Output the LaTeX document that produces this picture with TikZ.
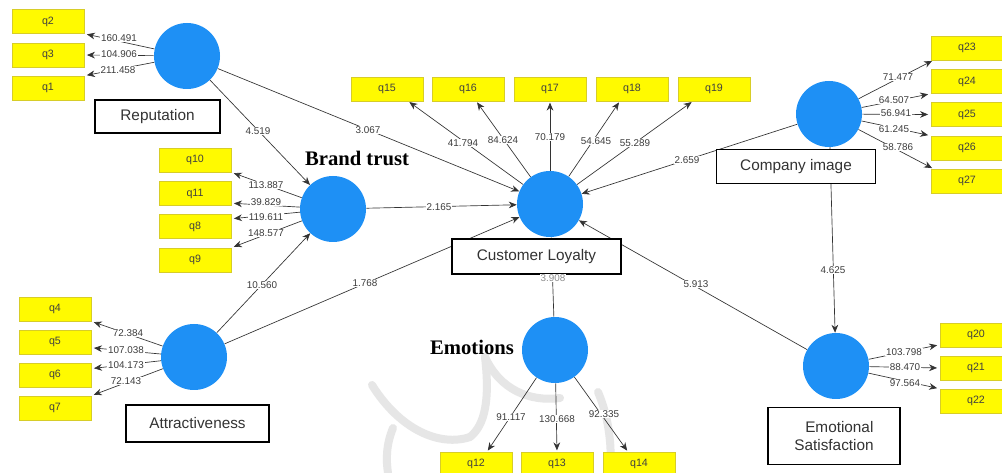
\documentclass[tikz,border=0pt]{standalone}
\usepackage{fontspec}
\setmainfont{Liberation Serif}
\setsansfont{Liberation Sans}
\usetikzlibrary{arrows.meta,backgrounds,calc}
\definecolor{lvblue}{RGB}{30,144,245}
\definecolor{indyel}{RGB}{255,250,0}
\definecolor{indedge}{RGB}{215,205,40}
\definecolor{valgray}{RGB}{60,60,60}
\definecolor{wmgray}{RGB}{230,230,230}
\begin{document}
\begin{tikzpicture}[x=0.75pt,y=-0.75pt,
  lv/.style={circle,fill=lvblue,minimum size=49.5pt,inner sep=0pt},
  ind/.style={rectangle,fill=indyel,draw=indedge,line width=0.4pt,minimum width=54pt,minimum height=18pt,inner sep=0pt,font=\sffamily\fontsize{8}{9}\selectfont,text=black!75},
  lbox/.style={rectangle,draw=black,line width=0.8pt,fill=white,font=\sffamily\fontsize{11.5}{14}\selectfont,text=black!80,align=center,inner sep=0pt},
  val/.style={fill=white,inner sep=0.6pt,font=\sffamily\fontsize{7.4}{8}\selectfont,text=valgray},
  bt/.style={font=\bfseries\fontsize{15.5}{18}\selectfont,text=black},
  conn/.style={draw=black!80,line width=0.5pt,-{Stealth[length=6pt,width=5pt]}},
  wm/.style={draw=wmgray,line width=6pt,line cap=round}]
\useasboundingbox (0,0) rectangle (1002,473);

% latent variables
\node[lv] (rep) at (187,56) {};
\node[lv] (brt) at (333,209) {};
\node[lv] (att) at (194,357) {};
\node[lv] (cl) at (550,204) {};
\node[lv] (ci) at (829,114) {};
\node[lv] (emo) at (555,350) {};
\node[lv] (es) at (836,366) {};

% label boxes
\node[lbox,minimum width=93.75pt,minimum height=24.75pt] (repl) at (157.5,116.5) {Reputation};
\node[lbox,minimum width=107.25pt,minimum height=27.75pt] (attl) at (197.5,423.5) {Attractiveness};
\node[lbox,minimum width=126.75pt,minimum height=26.25pt] (cll) at (536.5,256.5) {Customer Loyalty};
\node[lbox,minimum width=119.25pt,minimum height=25.5pt] (cil) at (796,166.5) {Company image};
\node[lbox,minimum width=99pt,minimum height=42.75pt] (esl) at (834,436) {\hspace*{8pt}Emotional\\Satisfaction};
\node[bt] (btl) at (357,158) {Brand trust};
\node[bt] (emol) at (472,347) {Emotions};

% indicators
\node[ind] (q2) at (48,21.5) {q2};
\node[ind] (q3) at (48,55) {q3};
\node[ind] (q1) at (48,88) {q1};
\node[ind] (q10) at (195,160) {q10};
\node[ind] (q11) at (195,193.5) {q11};
\node[ind] (q8) at (195,226.5) {q8};
\node[ind] (q9) at (195,260) {q9};
\node[ind] (q4) at (55,309) {q4};
\node[ind] (q5) at (55,342) {q5};
\node[ind] (q6) at (55,375) {q6};
\node[ind] (q7) at (55,408) {q7};
\node[ind] (q15) at (387,89) {q15};
\node[ind] (q16) at (468,89) {q16};
\node[ind] (q17) at (550,89) {q17};
\node[ind] (q18) at (632,89) {q18};
\node[ind] (q19) at (714,89) {q19};
\node[ind] (q23) at (967,48) {q23};
\node[ind] (q24) at (967,81.5) {q24};
\node[ind] (q25) at (967,114.5) {q25};
\node[ind] (q26) at (967,148) {q26};
\node[ind] (q27) at (967,181) {q27};
\node[ind] (q12) at (476,464) {q12};
\node[ind] (q13) at (557,464) {q13};
\node[ind] (q14) at (639,464) {q14};
\node[ind] (q20) at (976,335) {q20};
\node[ind] (q21) at (976,368) {q21};
\node[ind] (q22) at (976,401) {q22};

\begin{pgfonlayer}{background}
\fill[white] (0,0) rectangle (1002,473);
% watermark
\draw[wm] (372,385) .. controls (400,430) and (440,447) .. (470,437);
\draw[wm] (485,357) .. controls (490,400) and (485,425) .. (470,437);
\draw[wm] (393,428) .. controls (386,445) and (386,460) .. (388,473);
\draw[wm] (485,357) .. controls (500,390) and (530,402) .. (560,398);
\draw[wm] (598,392) .. controls (610,420) and (612,450) .. (610,473);
% structural paths
\draw[conn] (rep) -- (brt);
\draw[conn] (rep) -- (cl);
\draw[conn] (att) -- (brt);
\draw[conn] (att) -- (cl);
\draw[conn] (brt) -- (cl);
\draw[conn] (ci) -- (cl);
\draw[conn] (ci) -- (es);
\draw[conn] (es) -- (cl);
\draw[conn] (emo) -- (cl);
% outer loadings
\draw[conn,shorten >=2pt] (rep) -- (q2.south east);
\draw[conn,shorten >=2pt] (rep) -- (q3.east);
\draw[conn,shorten >=2pt] (rep) -- (q1.north east);
\draw[conn,shorten >=2pt] (brt) -- (q10.south east);
\draw[conn,shorten >=2pt] (brt) -- (q11.-15);
\draw[conn,shorten >=2pt] (brt) -- (q8.12);
\draw[conn,shorten >=2pt] (brt) -- (q9.north east);
\draw[conn,shorten >=2pt] (att) -- (q4.south east);
\draw[conn,shorten >=2pt] (att) -- (q5.-9);
\draw[conn,shorten >=2pt] (att) -- (q6.10);
\draw[conn,shorten >=2pt] (att) -- (q7.north east);
\draw[conn,shorten >=1pt] (cl) -- (q15.-30);
\draw[conn,shorten >=1pt] (cl) -- (q16.-56);
\draw[conn,shorten >=1pt] (cl) -- (q17.south);
\draw[conn,shorten >=1pt] (cl) -- (q18.-135);
\draw[conn,shorten >=1pt] (cl) -- (q19.-150);
\draw[conn,shorten >=1pt] (ci) -- (q23.-160);
\draw[conn,shorten >=2pt] (ci) -- (q24.south west);
\draw[conn,shorten >=2pt] (ci) -- (q25.west);
\draw[conn,shorten >=2pt] (ci) -- (q26.north west);
\draw[conn,shorten >=1pt] (ci) -- (q27.160);
\draw[conn,shorten >=1pt] (emo) -- (q12.48);
\draw[conn,shorten >=1pt] (emo) -- (q13.north);
\draw[conn,shorten >=1pt] (emo) -- (q14.132);
\draw[conn,shorten >=2pt] (es) -- (q20.-165);
\draw[conn,shorten >=2pt] (es) -- (q21.west);
\draw[conn,shorten >=2pt] (es) -- (q22.north west);
\end{pgfonlayer}

% path coefficients
\node[val] (v1) at (258,131) {4.519};
\node[val] (v2) at (368,130) {3.067};
\node[val] (v3) at (262,285) {10.560};
\node[val] (v4) at (365,283) {1.768};
\node[val] (v5) at (439,207) {2.165};
\node[val] (v6) at (687,160) {2.659};
\node[val] (v7) at (833,270) {4.625};
\node[val] (v8) at (696,284) {5.913};
\node[val,text=black!45] (v9) at (553,278) {3.908};
% loadings
\node[val] (l1) at (119,38) {160.491};
\node[val] (l2) at (119,54) {104.906};
\node[val] (l3) at (118,70) {211.458};
\node[val] (l4) at (266,185) {113.887};
\node[val] (l5) at (266,202) {39.829};
\node[val] (l6) at (266,217) {119.611};
\node[val] (l7) at (266,233) {148.577};
\node[val] (l8) at (128,333) {72.384};
\node[val] (l9) at (126,350) {107.038};
\node[val] (l10) at (126,365) {104.173};
\node[val] (l11) at (126,381) {72.143};
\node[val] (l12) at (463,143) {41.794};
\node[val] (l13) at (503,140) {84.624};
\node[val] (l14) at (550,137) {70.179};
\node[val] (l15) at (596,141) {54.645};
\node[val] (l16) at (635,143) {55.289};
\node[val] (l17) at (898,77) {71.477};
\node[val] (l18) at (894,100) {64.507};
\node[val] (l19) at (896,113) {56.941};
\node[val] (l20) at (894,129) {61.245};
\node[val] (l21) at (898,147) {58.786};
\node[val] (l22) at (511,417) {91.117};
\node[val] (l23) at (557,419) {130.668};
\node[val] (l24) at (604,414) {92.335};
\node[val] (l25) at (904,352) {103.798};
\node[val] (l26) at (905,367) {88.470};
\node[val] (l27) at (905,383) {97.564};
\end{tikzpicture}
\end{document}
